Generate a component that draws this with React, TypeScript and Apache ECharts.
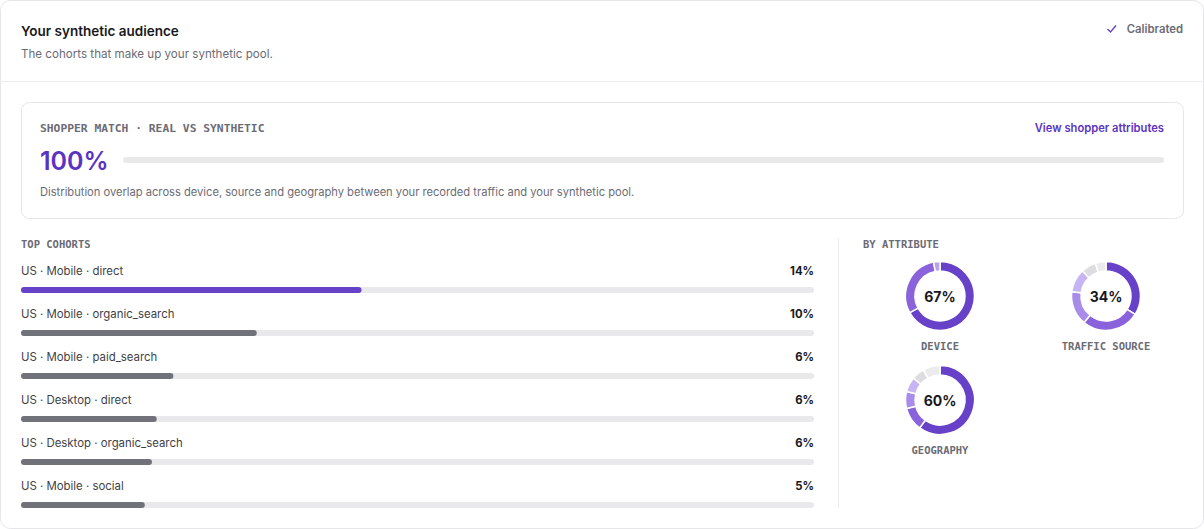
import React, { useEffect, useRef } from "react";
import * as echarts from "echarts";

const cohortNames = [
  "US · Mobile · direct",
  "US · Mobile · organic_search",
  "US · Mobile · paid_search",
  "US · Desktop · direct",
  "US · Desktop · organic_search",
  "US · Mobile · social",
];
const cohortShares = [14.3, 9.9, 6.4, 5.7, 5.5, 5.2];
const cohortLabels = ["14%", "10%", "6%", "6%", "6%", "5%"];
const cohortScaleMax = 33.3;

const matchScore = 100;
const matchLabel = "100%";

const attributeNames = ["DEVICE", "TRAFFIC SOURCE", "GEOGRAPHY"];
const attributeScoreLabels = ["67%", "34%", "60%"];
const deviceSegments = [67, 30, 3];
const trafficSegments = [34, 27, 16, 11, 7, 5];
const geographySegments = [60, 11, 8, 7, 6, 8];

const PURPLE = "#6741c8";
const PURPLE_TEXT = "#5b33c1";
const TRACK = "#e9e9ec";
const GRAY_BAR = "#71717a";
const deviceColors = ["#6741c8", "#8a62dc", "#b8a0ef"];
const segColors = ["#6741c8", "#8a62dc", "#a88ce9", "#c7b5f3", "#dcdce1", "#ebebee"];

const SANS = "Inter, 'Noto Sans', sans-serif";
const MONO = "'DejaVu Sans Mono', monospace";
const MUTED = "#6b6b74";

export default function App() {
  const ref = useRef<HTMLDivElement>(null);
  useEffect(() => {
    document.body.style.margin = "0";
    const chart = echarts.init(ref.current!, null, { renderer: "svg" });

    const txt = (x: number, y: number, text: string, o: any = {}) => ({
      type: "text",
      x,
      y,
      silent: true,
      style: {
        text,
        fill: o.fill || "#18181b",
        fontSize: o.size || 12,
        fontWeight: o.weight || 400,
        fontFamily: o.family || SANS,
        align: o.align || "left",
        verticalAlign: "middle",
      },
    });

    const pieCenters: [number, number][] = [
      [940, 296],
      [1106, 296],
      [940, 400],
    ];
    const pieData = [deviceSegments, trafficSegments, geographySegments];

    const graphic: any[] = [
      {
        type: "rect",
        shape: { x: 0.5, y: 0.5, width: 1203, height: 528, r: 10 },
        style: { fill: "#fff", stroke: "#e6e6e9", lineWidth: 1 },
        z: -10,
        silent: true,
      },
      {
        type: "line",
        shape: { x1: 0, y1: 81.5, x2: 1204, y2: 81.5 },
        style: { stroke: "#ececef", lineWidth: 1 },
        silent: true,
      },
      {
        type: "rect",
        shape: { x: 21.5, y: 102.5, width: 1162, height: 116, r: 8 },
        style: { fill: "#fff", stroke: "#e6e6e9", lineWidth: 1 },
        z: -5,
        silent: true,
      },
      {
        type: "line",
        shape: { x1: 838.5, y1: 238, x2: 838.5, y2: 508 },
        style: { stroke: "#ececef", lineWidth: 1 },
        silent: true,
      },
      {
        type: "polyline",
        shape: { points: [[1107.5, 29], [1110.5, 32], [1116, 25.5]] },
        style: { stroke: PURPLE, lineWidth: 1.4, fill: null },
        silent: true,
      },
      txt(21, 31, "Your synthetic audience", { size: 13.5, weight: 600 }),
      txt(21, 54, "The cohorts that make up your synthetic pool.", { size: 11.6, fill: MUTED }),
      txt(1183, 29, "Calibrated", { size: 11.3, weight: 600, fill: MUTED, align: "right" }),
      txt(40, 128, "SHOPPER MATCH · REAL VS SYNTHETIC", { size: 11.3, weight: 700, family: MONO, fill: MUTED }),
      txt(1164, 128, "View shopper attributes", { size: 11.2, weight: 600, fill: PURPLE_TEXT, align: "right" }),
      txt(40, 161, matchLabel, { size: 25, weight: 600, fill: PURPLE_TEXT }),
      txt(
        40,
        192,
        "Distribution overlap across device, source and geography between your recorded traffic and your synthetic pool.",
        { size: 11.15, fill: MUTED }
      ),
      txt(21, 244, "TOP COHORTS", { size: 10.5, weight: 700, family: MONO, fill: MUTED }),
      txt(863, 244, "BY ATTRIBUTE", { size: 10.5, weight: 700, family: MONO, fill: MUTED }),
    ];
    attributeNames.forEach((n, i) => {
      const [cx, cy] = pieCenters[i];
      graphic.push(txt(cx, cy + 50, n, { size: 10.5, weight: 700, family: MONO, fill: MUTED, align: "center" }));
      graphic.push(txt(cx, cy, attributeScoreLabels[i], { size: 14, weight: 700, align: "center" }));
    });

    const pies = pieData.map((d, i) => ({
      type: "pie",
      center: pieCenters[i],
      radius: [25, 34.5],
      startAngle: 90,
      clockwise: true,
      silent: true,
      label: { show: false },
      labelLine: { show: false },
      itemStyle: { borderColor: "#fff", borderWidth: 1.5 },
      data: d.map((v, j) => ({
        value: v,
        itemStyle: { color: i === 0 ? deviceColors[j] : segColors[j] },
      })),
    }));

    chart.setOption({
      animation: false,
      graphic,
      grid: [
        { left: 21, right: 390, top: 268.5, height: 258, containLabel: false },
        { left: 123, right: 40, top: 157, height: 6, containLabel: false },
      ],
      xAxis: [
        { gridIndex: 0, type: "value", min: 0, max: cohortScaleMax, show: false },
        { gridIndex: 1, type: "value", min: 0, max: 100, show: false },
      ],
      yAxis: [
        { gridIndex: 0, type: "category", inverse: true, data: cohortNames, show: false },
        { gridIndex: 1, type: "category", data: ["match"], show: false },
      ],
      series: [
        {
          type: "bar",
          xAxisIndex: 0,
          yAxisIndex: 0,
          barWidth: 6,
          silent: true,
          data: cohortNames.map(() => cohortScaleMax),
          itemStyle: { color: TRACK, borderRadius: 3 },
          label: {
            show: true,
            position: ["100%", -16],
            align: "right",
            verticalAlign: "middle",
            formatter: (p: any) => cohortLabels[p.dataIndex],
            fontSize: 11.3,
            fontWeight: 700,
            fontFamily: SANS,
            color: "#18181b",
          },
        },
        {
          type: "bar",
          xAxisIndex: 0,
          yAxisIndex: 0,
          barWidth: 6,
          barGap: "-100%",
          silent: true,
          data: cohortShares.map((v, i) => ({
            value: v,
            itemStyle: { color: i === 0 ? PURPLE : GRAY_BAR, borderRadius: 3 },
          })),
          label: {
            show: true,
            position: [0, -16],
            align: "left",
            verticalAlign: "middle",
            formatter: (p: any) => cohortNames[p.dataIndex],
            fontSize: 11.4,
            fontFamily: SANS,
            color: "#3f3f46",
          },
        },
        {
          type: "bar",
          xAxisIndex: 1,
          yAxisIndex: 1,
          barWidth: 6,
          silent: true,
          data: [matchScore],
          itemStyle: { color: TRACK, borderRadius: 3 },
        },
        ...pies,
      ],
    });
    return () => chart.dispose();
  }, []);
  return (
    <div
      ref={ref}
      style={{ position: "absolute", left: 0, top: 0, width: 1204, height: 529 }}
    />
  );
}
